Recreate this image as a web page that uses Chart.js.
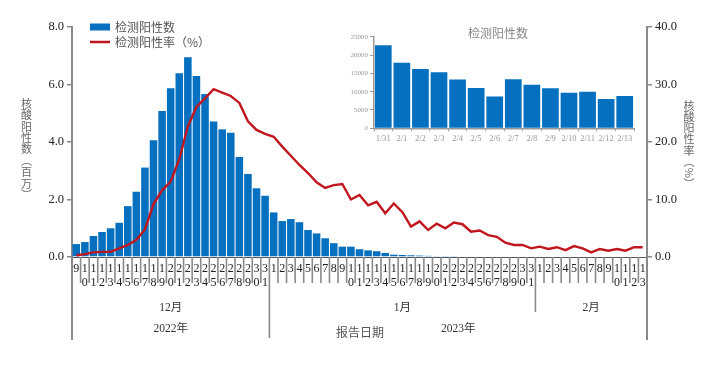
<!DOCTYPE html>
<html><head><meta charset="utf-8">
<script src="https://cdn.jsdelivr.net/npm/chart.js@4.4.1/dist/chart.umd.min.js"></script>
<style>
html,body{margin:0;padding:0;background:#fff;}
#wrap{position:relative;width:717px;height:380px;overflow:hidden;}
#main{position:absolute;left:0;top:0;}
#inset{position:absolute;left:330px;top:18px;}
</style></head><body>
<div id="wrap"><canvas id="main" width="717" height="380"></canvas><canvas id="inset" width="312" height="132"></canvas></div>
<script>
// ---------- data ----------
const dates = [
 '2022-12-09','2022-12-10','2022-12-11','2022-12-12','2022-12-13','2022-12-14','2022-12-15','2022-12-16','2022-12-17','2022-12-18',
 '2022-12-19','2022-12-20','2022-12-21','2022-12-22','2022-12-23','2022-12-24','2022-12-25','2022-12-26','2022-12-27','2022-12-28',
 '2022-12-29','2022-12-30','2022-12-31',
 '2023-01-01','2023-01-02','2023-01-03','2023-01-04','2023-01-05','2023-01-06','2023-01-07','2023-01-08','2023-01-09','2023-01-10',
 '2023-01-11','2023-01-12','2023-01-13','2023-01-14','2023-01-15','2023-01-16','2023-01-17','2023-01-18','2023-01-19','2023-01-20',
 '2023-01-21','2023-01-22','2023-01-23','2023-01-24','2023-01-25','2023-01-26','2023-01-27','2023-01-28','2023-01-29','2023-01-30',
 '2023-01-31',
 '2023-02-01','2023-02-02','2023-02-03','2023-02-04','2023-02-05','2023-02-06','2023-02-07','2023-02-08','2023-02-09','2023-02-10',
 '2023-02-11','2023-02-12','2023-02-13'
];
// positive count (millions)
const positiveCount = [
 0.45, 0.52, 0.73, 0.87, 1.00, 1.19, 1.77, 2.27, 3.11, 4.06,
 5.08, 5.87, 6.39, 6.95, 6.30, 5.67, 4.71, 4.44, 4.32, 3.48,
 2.89, 2.39, 2.13, 1.55, 1.25, 1.32, 1.21, 0.94, 0.82, 0.65,
 0.48, 0.36, 0.36, 0.27, 0.23, 0.20, 0.14, 0.08, 0.07, 0.06,
 0.05, 0.04, 0.03, 0.02, 0.02, null, null, null, null, null,
 null, null, null, null, null, null, null, null, null, null,
 null, null, null, null, null, null, null
];
// positive rate (%)
const positiveRate = [
 0.3, 0.5, 0.8, 0.9, 0.9, 1.5, 2.1, 3.0, 4.8, 9.2,
 11.6, 13.1, 17.0, 22.7, 26.1, 27.6, 29.2, 28.6, 28.0, 26.8,
 23.6, 22.1, 21.4, 20.9, 19.2, 17.6, 16.0, 14.6, 13.0, 12.0,
 12.5, 12.7, 10.0, 10.8, 9.0, 9.6, 7.6, 9.3, 7.8, 5.3,
 6.2, 4.7, 5.8, 5.0, 6.0, 5.7, 4.4, 4.6, 3.8, 3.5,
 2.5, 2.1, 2.1, 1.5, 1.8, 1.4, 1.7, 1.2, 1.9, 1.5,
 0.8, 1.4, 1.1, 1.4, 1.1, 1.7, 1.7
];
const months = ['2022-12','2023-01','2023-02'];
const monthLabels = ['12月','1月','2月'];
const years = ['2022','2023'];
const yearLabels = ['2022年','2023年'];
const leftTicks = [0, 2, 4, 6, 8];
const rightTicks = [0, 10, 20, 30, 40];

// inset
const insetLabels = ['1/31','2/1','2/2','2/3','2/4','2/5','2/6','2/7','2/8','2/9','2/10','2/11','2/12','2/13'];
const insetValues = [22700, 17900, 16200, 15300, 13300, 11000, 8700, 13400, 11900, 10900, 9700, 10000, 8000, 8800];

// ---------- styles ----------
const SERIF = "'Liberation Serif','Times New Roman','Noto Sans CJK SC',serif";
const CJK = "'Noto Sans CJK SC','Noto Sans',sans-serif";
const BLUE = '#0670C0';
const RED = '#C0161E';
const AXIS = '#8a8a8a';

function vline(ctx, x, y1, y2){ ctx.beginPath(); ctx.moveTo(x, y1); ctx.lineTo(x, y2); ctx.stroke(); }
function drawVertical(ctx, text, cx, top, step){
  const swap = {'（':'︵','）':'︶'};
  const rot = new Set(['%']);
  const chars = Array.from(text);
  chars.forEach((ch, k) => {
    const cy = top + k*step + step/2;
    const c = swap[ch] || ch;
    if (rot.has(c)) { ctx.save(); ctx.translate(cx, cy); ctx.rotate(Math.PI/2); ctx.fillText(c, 0, 0); ctx.restore(); }
    else ctx.fillText(c, cx, cy);
  });
}

const mainDecor = {
  id: 'mainDecor',
  afterDraw(chart){
    const {ctx, chartArea: ca, scales: {x}} = chart;
    const bnd = i => x.getPixelForValue(i - 0.5);
    ctx.save();
    // category tick lines
    ctx.strokeStyle = AXIS; ctx.lineWidth = 1.6;
    for (let i = 1; i < dates.length; i++) {
      const m0 = dates[i-1].slice(0,7), m1 = dates[i].slice(0,7);
      const y0 = dates[i-1].slice(0,4), y1 = dates[i].slice(0,4);
      let end = 283;
      if (y0 !== y1) end = 338; else if (m0 !== m1) end = 312;
      vline(ctx, bnd(i), ca.bottom, end);
    }
    ctx.lineWidth = 2;
    vline(ctx, ca.left, ca.bottom, 340);
    vline(ctx, ca.right, ca.bottom, 340);
    // month labels
    ctx.fillStyle = '#333'; ctx.textAlign = 'center'; ctx.textBaseline = 'middle';
    ctx.font = "11.5px " + SERIF;
    months.forEach((m, k) => {
      const idx = dates.map((d,i)=>d.startsWith(m)?i:-1).filter(i=>i>=0);
      const cx = (bnd(idx[0]) + bnd(idx[idx.length-1]+1))/2;
      ctx.fillText(monthLabels[k], cx, 308);
    });
    years.forEach((y, k) => {
      const idx = dates.map((d,i)=>d.startsWith(y)?i:-1).filter(i=>i>=0);
      const cx = (bnd(idx[0]) + bnd(idx[idx.length-1]+1))/2;
      ctx.fillText(yearLabels[k], cx, 329);
    });
    ctx.fillStyle = '#555'; ctx.font = "12px " + CJK;
    ctx.fillText('报告日期', 360, 332);
    // axis titles
    ctx.fillStyle = '#666'; ctx.font = "11px " + CJK;
    drawVertical(ctx, '核酸阳性数（百万）', 26.5, 98, 11.4);
    drawVertical(ctx, '核酸阳性率（%）', 689, 100, 11.2);
    // legend
    ctx.fillStyle = BLUE; ctx.fillRect(90, 23.5, 20, 7);
    ctx.strokeStyle = RED; ctx.lineWidth = 2.5;
    ctx.beginPath(); ctx.moveTo(90, 42); ctx.lineTo(110, 42); ctx.stroke();
    ctx.fillStyle = '#555'; ctx.font = "12px " + CJK; ctx.textAlign = 'left';
    ctx.fillText('检测阳性数', 115, 27.5);
    ctx.fillText('检测阳性率（%）', 115, 42.5);
    ctx.restore();
  }
};

new Chart(document.getElementById('main'), {
  data: {
    labels: dates,
    datasets: [
      { type: 'line', label: '检测阳性率（%）', data: positiveRate, yAxisID: 'y1', borderColor: RED, borderWidth: 2.4,
        pointRadius: 0, tension: 0, fill: false, order: 0 },
      { type: 'bar', label: '检测阳性数', data: positiveCount, yAxisID: 'y', backgroundColor: BLUE,
        categoryPercentage: 0.88, barPercentage: 1.0, order: 1 }
    ]
  },
  options: {
    responsive: false, animation: false, devicePixelRatio: 1,
    layout: { padding: { top: 27, left: 0, right: 0, bottom: 0 } },
    plugins: { legend: { display: false }, tooltip: { enabled: false } },
    scales: {
      x: {
        type: 'category', offset: true,
        grid: { display: false, drawTicks: false },
        border: { display: true, color: '#555', width: 1 },
        ticks: {
          autoSkip: false, maxRotation: 0, minRotation: 0, padding: 5, color: '#222',
          font: { family: SERIF, size: 12, lineHeight: 1.15 },
          callback: (v, i) => { const s = String(Number(dates[i].slice(8))); return s.length > 1 ? s.split('') : s; }
        },
        afterFit: s => { s.height = 123; }
      },
      y: {
        position: 'left', min: leftTicks[0], max: leftTicks[leftTicks.length-1],
        afterBuildTicks: s => { s.ticks = leftTicks.map(v => ({ value: v })); },
        ticks: { padding: 3, color: '#222', font: { family: SERIF, size: 12.5 }, callback: v => Number(v).toFixed(1) },
        grid: { drawOnChartArea: false, drawTicks: true, tickLength: 5, color: AXIS, lineWidth: 1.5 },
        border: { color: AXIS, width: 2 },
        afterFit: s => { s.width = 72; }
      },
      y1: {
        position: 'right', min: rightTicks[0], max: rightTicks[rightTicks.length-1],
        afterBuildTicks: s => { s.ticks = rightTicks.map(v => ({ value: v })); },
        ticks: { padding: 3, color: '#222', font: { family: SERIF, size: 12.5 }, callback: v => Number(v).toFixed(1) },
        grid: { drawOnChartArea: false, drawTicks: true, tickLength: 5, color: AXIS, lineWidth: 1.5 },
        border: { color: AXIS, width: 2 },
        afterFit: s => { s.width = 70; }
      }
    }
  },
  plugins: [mainDecor]
});

const insetTitle = {
  id: 'insetTitle',
  afterDraw(chart){
    const {ctx, chartArea: ca} = chart;
    ctx.save();
    ctx.fillStyle = '#888'; ctx.font = "12px " + CJK; ctx.textAlign = 'center'; ctx.textBaseline = 'middle';
    ctx.fillText('检测阳性数', (ca.left + ca.right)/2 - 6, 15.3);
    ctx.restore();
  }
};

new Chart(document.getElementById('inset'), {
  type: 'bar',
  data: { labels: insetLabels, datasets: [{ data: insetValues, backgroundColor: BLUE, categoryPercentage: 0.9, barPercentage: 1.0 }] },
  options: {
    responsive: false, animation: false, devicePixelRatio: 1,
    layout: { padding: { top: 18.7, right: 8, left: 0, bottom: 0 } },
    plugins: { legend: { display: false }, tooltip: { enabled: false } },
    scales: {
      x: {
        grid: { drawOnChartArea: false, drawTicks: true, tickLength: 3, color: '#999', lineWidth: 1 },
        border: { color: '#999', width: 1.5 },
        ticks: { autoSkip: false, maxRotation: 0, minRotation: 0, padding: 2, color: '#999', font: { family: SERIF, size: 8.5 } },
        afterFit: s => { s.height = 21.7; }
      },
      y: {
        min: 0, max: 25000,
        ticks: { stepSize: 5000, padding: 2, color: '#999', font: { family: SERIF, size: 7 }, callback: v => String(v) },
        grid: { drawOnChartArea: false, drawTicks: true, tickLength: 4, color: '#999', lineWidth: 1 },
        border: { color: '#999', width: 1.5 },
        afterFit: s => { s.width = 44; }
      }
    }
  },
  plugins: [insetTitle]
});
</script></body></html>
